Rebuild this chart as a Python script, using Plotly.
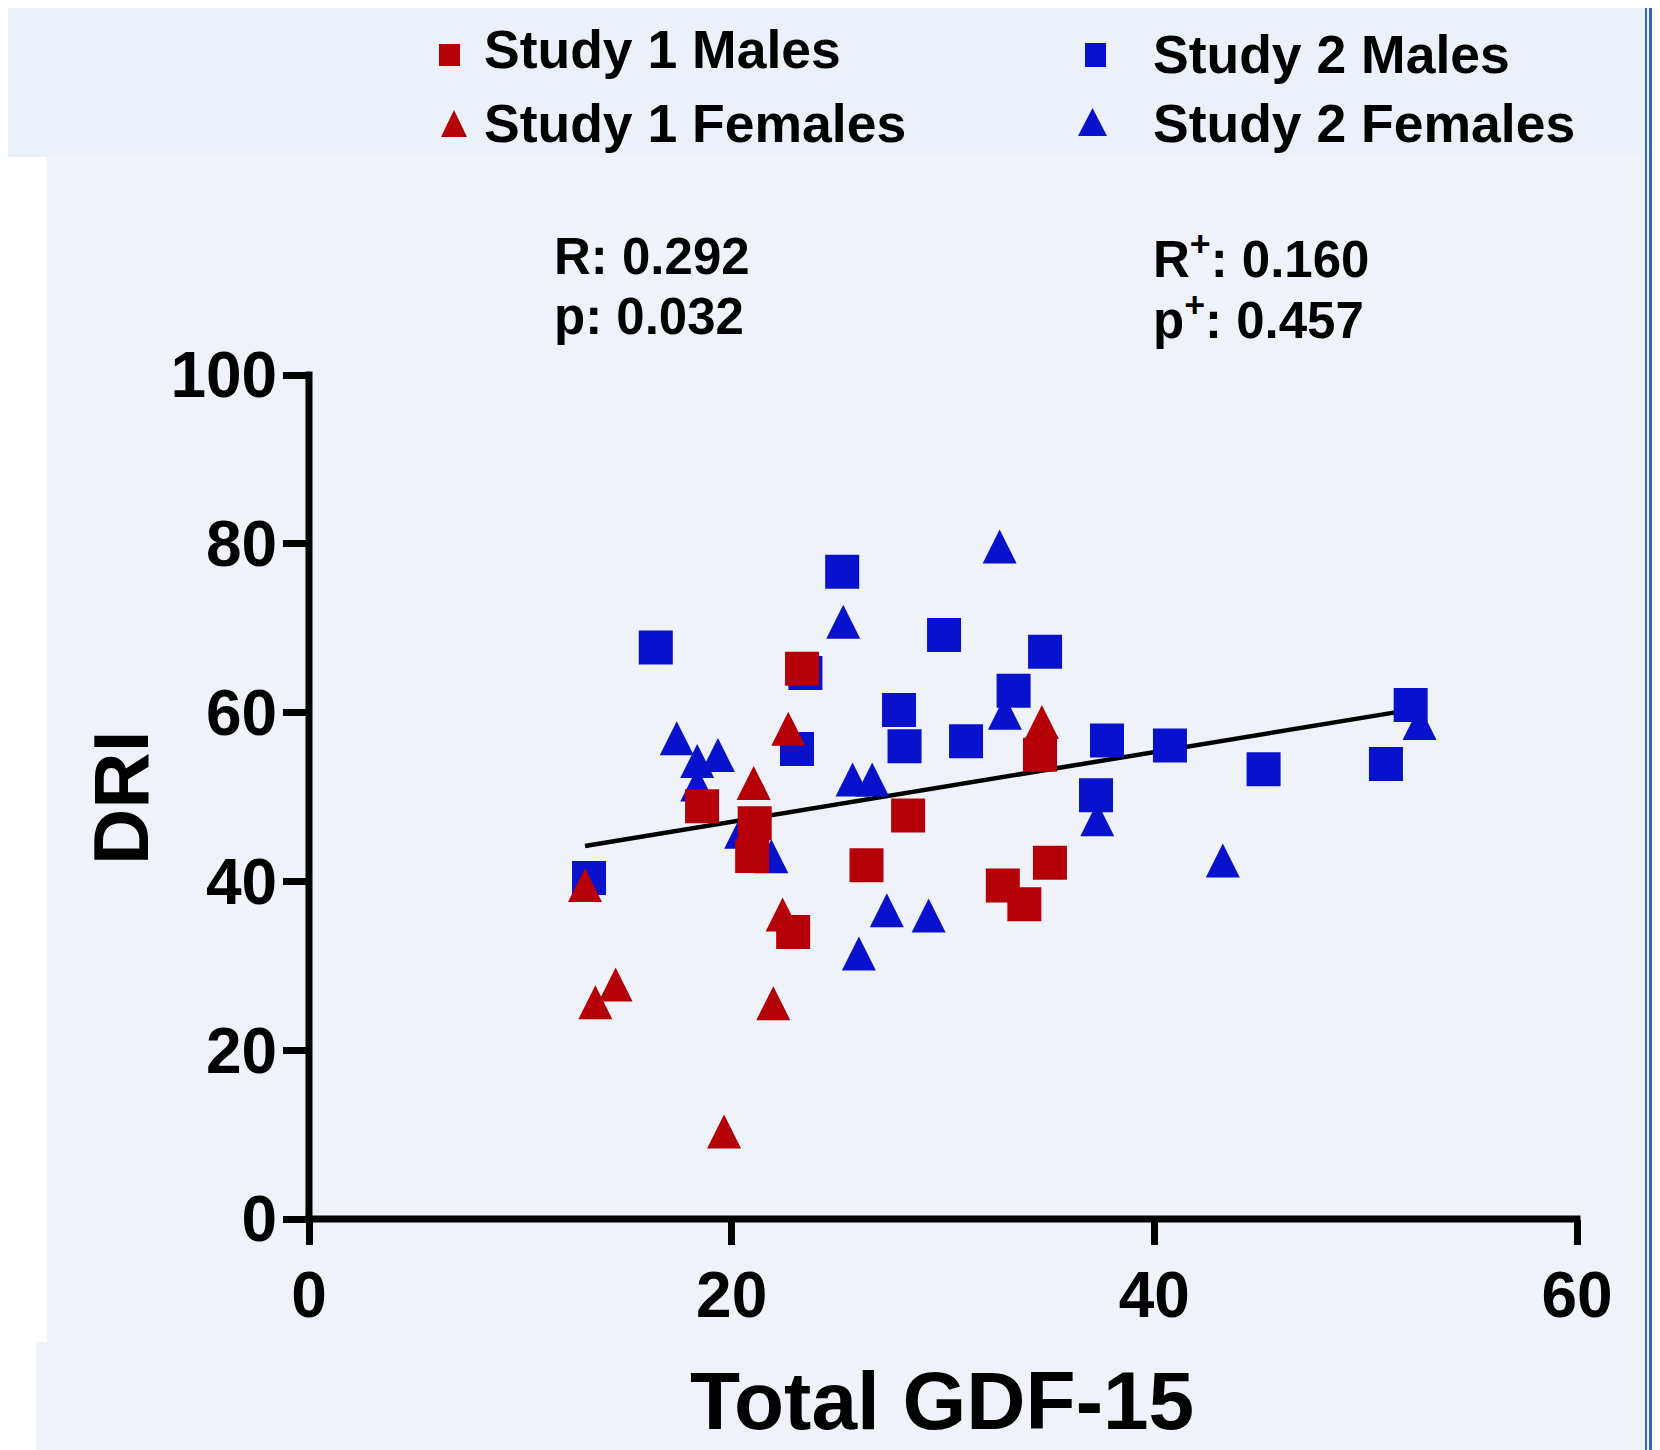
import plotly.graph_objects as go

# ---------------- data ----------------
s1m_x = [23.33, 34.59, 18.60, 21.09, 20.97, 28.35, 26.38, 35.06, 32.83, 33.85, 22.91]
s1m_y = [65.2, 55.0, 48.9, 46.9, 43.0, 47.8, 41.9, 42.2, 39.5, 37.3, 34.0]

s1f_x = [22.68, 34.68, 21.04, 13.06, 22.41, 13.55, 14.51, 21.97, 19.64]
s1f_y = [57.4, 58.2, 51.0, 38.9, 35.4, 25.0, 27.1, 24.9, 9.7]

s2m_x = [25.23, 16.41, 30.05, 34.83, 23.49, 33.34, 27.92, 28.18, 23.09, 31.09,
         37.76, 37.24, 13.25, 40.74, 45.17, 50.96, 52.13]
s2m_y = [76.7, 67.7, 69.2, 67.2, 64.7, 62.6, 60.3, 56.0, 55.7, 56.6,
         56.7, 50.2, 40.4, 56.1, 53.3, 53.9, 60.9]

s2f_x = [32.68, 25.28, 17.40, 18.37, 19.35, 18.37, 32.93, 25.72, 26.65, 20.45,
         21.88, 27.34, 29.32, 26.02, 37.3, 43.24, 52.55]
s2f_y = [79.0, 70.1, 56.3, 53.6, 54.3, 50.8, 59.3, 51.4, 51.4, 45.2,
         42.3, 35.9, 35.3, 30.8, 46.7, 41.8, 58.1]

fit_x = [13.06, 52.55]
fit_y = [44.2, 60.5]

x_ticks = [0, 20, 40, 60]
y_ticks = [0, 20, 40, 60, 80, 100]

legend_labels = ["Study 1 Males", "Study 1 Females", "Study 2 Males", "Study 2 Females"]
stat_left = ["R: 0.292", "p: 0.032"]
stat_right = ["R<sup>+</sup>: 0.160", "p<sup>+</sup>: 0.457"]

# ---------------- style ----------------
RED = "#b40006"
BLUE = "#0812cc"
FONT = "Liberation Sans, Arial, sans-serif"
VW, VH = 1660, 1450          # browser viewport
OFF = 8                      # default page body margin
W, H = VW - OFF, VH - OFF    # figure size so the page fits the window
# plot-area edges in viewport pixels
PL, PR, PT, PB = 309, 1577, 375, 1219
MS = 34


def px(x):
    return (x - PL) / (PR - PL)


def py(y):
    return (PB - y) / (PB - PT)


fig = go.Figure()

fig.add_trace(go.Scatter(x=fit_x, y=fit_y, mode="lines",
                         line=dict(color="black", width=4.5), showlegend=False))

tri = dict(symbol="arrow-down", angle=180, standoff=MS * 2 / 3, size=MS, line=dict(width=0))
sq = dict(symbol="square", size=MS, line=dict(width=0))

fig.add_trace(go.Scatter(x=s2f_x, y=s2f_y, mode="markers", name=legend_labels[3],
                         marker=dict(color=BLUE, **tri), showlegend=False, cliponaxis=False))
fig.add_trace(go.Scatter(x=s2m_x, y=s2m_y, mode="markers", name=legend_labels[2],
                         marker=dict(color=BLUE, **sq), showlegend=False, cliponaxis=False))
fig.add_trace(go.Scatter(x=s1f_x, y=s1f_y, mode="markers", name=legend_labels[1],
                         marker=dict(color=RED, **tri), showlegend=False, cliponaxis=False))
fig.add_trace(go.Scatter(x=s1m_x, y=s1m_y, mode="markers", name=legend_labels[0],
                         marker=dict(color=RED, **sq), showlegend=False, cliponaxis=False))

shapes = []
# background pieces
shapes.append(dict(type="rect", xref="paper", yref="paper", x0=px(0), x1=px(1645),
                   y0=py(0), y1=py(157), fillcolor="#ecf0f8", line=dict(width=0), layer="below"))
shapes.append(dict(type="rect", xref="paper", yref="paper", x0=px(0), x1=px(47),
                   y0=py(157), y1=py(1342), fillcolor="#ffffff", line=dict(width=0), layer="below"))
shapes.append(dict(type="rect", xref="paper", yref="paper", x0=px(0), x1=px(36),
                   y0=py(1342), y1=py(1450), fillcolor="#ffffff", line=dict(width=0), layer="below"))
shapes.append(dict(type="rect", xref="paper", yref="paper", x0=px(1645), x1=px(1647),
                   y0=py(0), y1=py(1450), fillcolor="#3466bc", line=dict(width=0), layer="below"))
shapes.append(dict(type="rect", xref="paper", yref="paper", x0=px(1649), x1=px(1655),
                   y0=py(0), y1=py(1450), fillcolor="#3466bc", line=dict(width=0), layer="below"))
shapes.append(dict(type="rect", xref="paper", yref="paper", x0=px(1655), x1=px(1660),
                   y0=py(0), y1=py(1450), fillcolor="#e2e9f5", line=dict(width=0), layer="below"))
# axis lines
shapes.append(dict(type="line", xref="paper", yref="paper", x0=0, x1=0,
                   y0=py(PB + 3.5), y1=py(PT - 3.5), line=dict(color="black", width=7)))
shapes.append(dict(type="line", xref="paper", yref="paper", x0=px(PL - 3.5), x1=px(PR + 3.5),
                   y0=0, y1=0, line=dict(color="black", width=7)))


# legend markers
def sq_shape(cx, cy, w, h, color):
    return dict(type="rect", xref="paper", yref="paper", x0=px(cx - w / 2), x1=px(cx + w / 2),
                y0=py(cy + h / 2), y1=py(cy - h / 2), fillcolor=color, line=dict(width=0))


def tri_shape(cx, top, bottom, hw, color):
    path = "M {},{} L {},{} L {},{} Z".format(px(cx), py(top), px(cx - hw), py(bottom),
                                                px(cx + hw), py(bottom))
    return dict(type="path", xref="paper", yref="paper", path=path, fillcolor=color,
                line=dict(width=0))


shapes.append(sq_shape(449.5, 55, 21, 22, RED))
shapes.append(tri_shape(454, 110, 137, 13, RED))
shapes.append(sq_shape(1095.5, 55, 21, 24, BLUE))
shapes.append(tri_shape(1092.5, 108, 136, 14.5, BLUE))

annotations = []


def text(t, x, y, size, xanchor="left", textangle=0):
    annotations.append(dict(text=t, x=px(x), y=py(y), xref="paper", yref="paper",
                            xanchor=xanchor, yanchor="middle", showarrow=False,
                            textangle=textangle,
                            font=dict(family=FONT, size=size, color="black", weight="bold")))


text(legend_labels[0], 482, 49, 53.5)
text(legend_labels[1], 482, 123.5, 53.5)
text(legend_labels[2], 1151, 54, 53.5)
text(legend_labels[3], 1151, 123.5, 53.5)
text(stat_left[0], 552, 256.5, 51)
text(stat_left[1], 552, 317, 51)
text(stat_right[0], 1151, 256.5, 51)
text(stat_right[1], 1151, 317, 51)
text("Total GDF-15", 942, 1400, 82, xanchor="center")
text("DRI", 121, 798, 78, xanchor="center", textangle=-90)

fig.update_layout(
    width=W, height=H,
    margin=dict(l=PL - OFF, r=VW - PR, t=PT - OFF, b=VH - PB, pad=0),
    paper_bgcolor="#eff3f9",
    plot_bgcolor="rgba(0,0,0,0)",
    showlegend=False,
    shapes=shapes,
    annotations=annotations,
    xaxis=dict(range=[0, 60], tickvals=x_ticks, ticks="outside", ticklen=25, tickwidth=7,
               tickcolor="black", showline=False, showgrid=False, zeroline=False,
               ticklabelstandoff=-5,
               tickfont=dict(family=FONT, size=64, color="black", weight="bold")),
    yaxis=dict(range=[0, 100], tickvals=y_ticks, ticks="outside", ticklen=25, tickwidth=7,
               tickcolor="black", showline=False, showgrid=False, zeroline=False,
               ticklabelstandoff=-7,
               tickfont=dict(family=FONT, size=64, color="black", weight="bold")),
)

fig.write_html("out.html")
